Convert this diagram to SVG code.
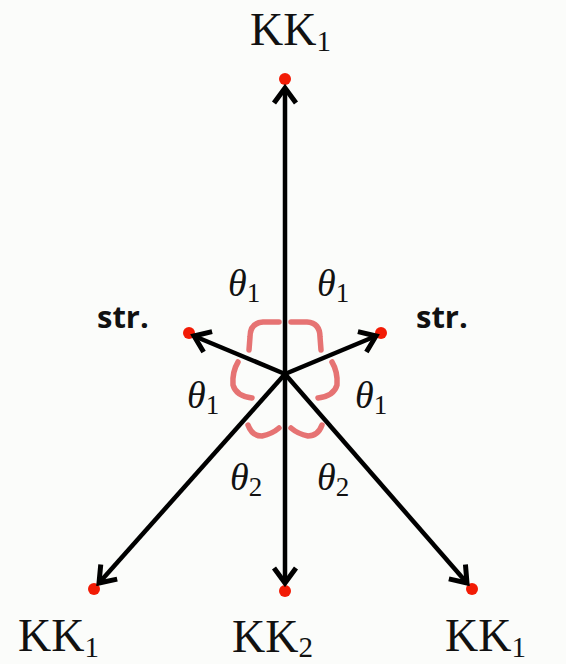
<svg xmlns="http://www.w3.org/2000/svg" width="566" height="664" viewBox="0 0 566 664">
<style>
.lbl{font-family:"Liberation Serif","Times New Roman",serif;font-size:46px;fill:#111}
.sub{font-size:29px}
.th{font-family:"Liberation Serif","Times New Roman",serif;font-style:italic;font-size:38px;fill:#111}
.ths{font-style:normal;font-size:27px}
.str{font-family:"Open Sans","DejaVu Sans",sans-serif;font-weight:bold;font-size:31px;fill:#111}
.dot{fill:#f21b05}
.arr{stroke:#000;stroke-width:4.5;fill:none;marker-end:url(#ah)}
.red{stroke:#e25a5a;stroke-width:5.5;fill:none;stroke-linecap:round;opacity:0.85}
</style>
<defs>
<marker id="ah" viewBox="-18 -14 22 28" markerWidth="22" markerHeight="28" refX="0" refY="0" orient="auto" markerUnits="userSpaceOnUse">
<path d="M-15,-11 L0,0 L-15,11" fill="none" stroke="#000" stroke-width="5" stroke-linejoin="miter"/>
</marker>
</defs>
<rect width="566" height="664" fill="#fbfcfa"/>
<g id="dots">
<circle id="d_top" class="dot" cx="285" cy="79" r="6"/>
<circle id="d_strl" class="dot" cx="189" cy="333" r="6"/>
<circle id="d_strr" class="dot" cx="381" cy="333" r="6"/>
<circle id="d_bl" class="dot" cx="94" cy="589" r="6"/>
<circle id="d_bc" class="dot" cx="285" cy="591" r="6"/>
<circle id="d_br" class="dot" cx="472" cy="589" r="6"/>
</g>
<g id="connectors">
<line class="arr" x1="285" y1="374" x2="285" y2="88"/>
<line class="arr" x1="285" y1="374" x2="194" y2="336"/>
<line class="arr" x1="285" y1="374" x2="376" y2="336"/>
<line class="arr" x1="285" y1="374" x2="99" y2="583"/>
<line class="arr" x1="285" y1="374" x2="285" y2="583"/>
<line class="arr" x1="285" y1="374" x2="467" y2="583"/>
</g>
<g id="angles">
<path class="red" d="M279,322 L263,322 Q250,323 250,337 L249,350"/>
<path class="red" d="M291,322 L307,322 Q320,323 320,337 L321,350"/>
<path class="red" d="M238,362 Q232,372 233,385 Q236,396 252,398"/>
<path class="red" d="M332,362 Q338,372 337,385 Q334,396 318,398"/>
<path class="red" d="M248,425 Q252,436 262,436 Q272,434 279,428"/>
<path class="red" d="M291,428 Q298,434 308,436 Q318,436 322,425"/>
</g>
<g id="n_top"><text class="lbl" x="250" y="45">KK<tspan class="sub" dy="6">1</tspan></text></g>
<g id="n_bl"><text class="lbl" x="18" y="651">KK<tspan class="sub" dy="6">1</tspan></text></g>
<g id="n_bc"><text class="lbl" x="232" y="652">KK<tspan class="sub" dy="5">2</tspan></text></g>
<g id="n_br"><text class="lbl" x="445" y="651">KK<tspan class="sub" dy="6">1</tspan></text></g>
<g id="n_strl"><text class="str" x="97" y="328">str.</text></g>
<g id="n_strr"><text class="str" x="416" y="328">str.</text></g>
<g id="theta">
<text class="th" x="228" y="296">θ<tspan class="ths" dy="6">1</tspan></text>
<text class="th" x="317" y="296">θ<tspan class="ths" dy="6">1</tspan></text>
<text class="th" x="187" y="408">θ<tspan class="ths" dy="6">1</tspan></text>
<text class="th" x="355" y="408">θ<tspan class="ths" dy="6">1</tspan></text>
<text class="th" x="230" y="490">θ<tspan class="ths" dy="6">2</tspan></text>
<text class="th" x="317" y="490">θ<tspan class="ths" dy="6">2</tspan></text>
</g>
</svg>
